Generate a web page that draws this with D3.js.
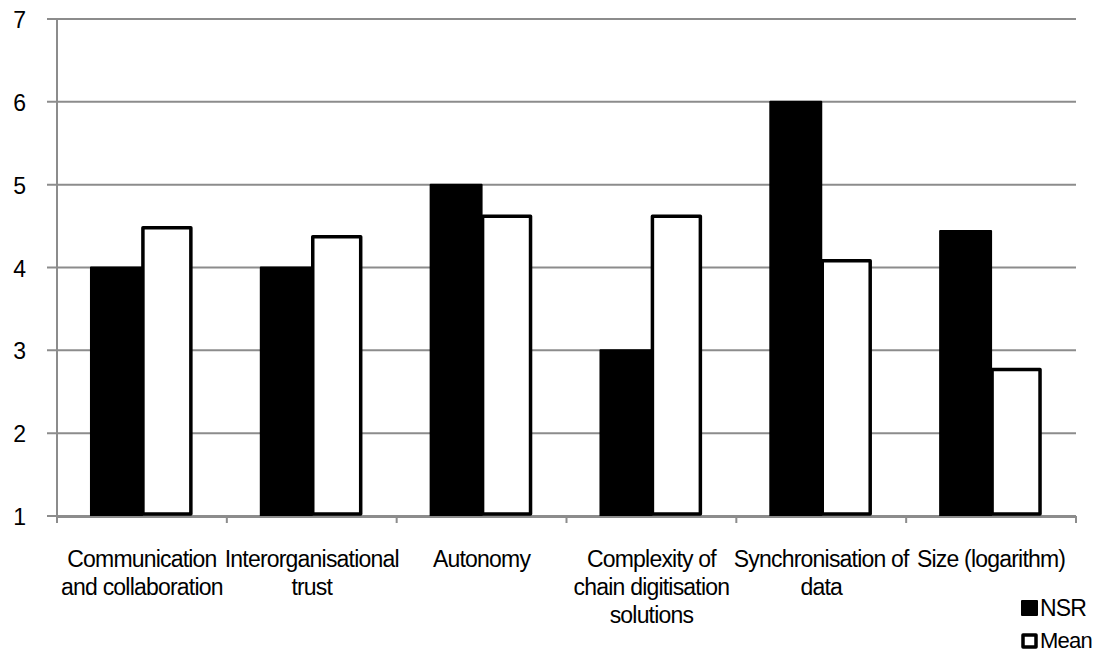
<!DOCTYPE html>
<html><head><meta charset="utf-8">
<script src="https://cdn.jsdelivr.net/npm/d3@7"></script>
<style>
body{margin:0;background:#fff;}
text{font-family:"Liberation Sans",Arial,sans-serif;fill:#000;}
</style></head>
<body>
<svg id="chart" width="1102" height="655"></svg>
<script>
const categories = ["Communication and collaboration","Interorganisational trust","Autonomy","Complexity of chain digitisation solutions","Synchronisation of data","Size (logarithm)"];
const categoryLines = [["Communication","and collaboration"],["Interorganisational","trust"],["Autonomy"],["Complexity of","chain digitisation","solutions"],["Synchronisation of","data"],["Size (logarithm)"]];
const nsrValues = [4, 4, 5, 3, 6, 4.44];
const meanValues = [4.48, 4.37, 4.62, 4.62, 4.08, 2.77];
const seriesNames = ["NSR","Mean"];
const yTicks = [1,2,3,4,5,6,7];

(function(){
const svg = d3.select("#chart");
const pL = 57, pR = 1076, pT = 19, pB = 516;
const x = d3.scaleBand().domain(categories).range([pL, pR]).paddingInner(0).paddingOuter(0);
const y = d3.scaleLinear().domain([1,7]).range([pB, pT]);
const bw = x.bandwidth()*0.3;
const off = x.bandwidth()*0.2;

// gridlines
svg.append("g").selectAll("line").data(yTicks).join("line")
  .attr("x1", pL-10).attr("x2", pR)
  .attr("y1", d=>y(d)).attr("y2", d=>y(d))
  .attr("stroke","#8c8c8c").attr("stroke-width",2);

// y labels
svg.append("g").selectAll("text").data(yTicks).join("text")
  .attr("x", 26).attr("y", d=>y(d)+9)
  .attr("text-anchor","end").attr("font-size",23).text(d=>d);

// bars
const g = svg.append("g");
g.selectAll("rect.nsr").data(categories).join("rect").attr("class","nsr")
  .attr("x", (d)=>x(d)+off)
  .attr("y", (d,i)=>y(nsrValues[i]))
  .attr("width", bw)
  .attr("height", (d,i)=>y(1)-y(nsrValues[i]))
  .attr("fill","#000").attr("stroke","#000").attr("stroke-width",2).attr("stroke-linejoin","round");
g.selectAll("rect.mean").data(categories).join("rect").attr("class","mean")
  .attr("x", (d)=>x(d)+off+bw+1)
  .attr("y", (d,i)=>y(meanValues[i]))
  .attr("width", bw-3)
  .attr("height", (d,i)=>y(1)-y(meanValues[i])-2)
  .attr("fill","#fff").attr("stroke","#000").attr("stroke-width",3.5).attr("stroke-linejoin","round");

// axes lines
svg.append("line").attr("x1",pL).attr("x2",pL).attr("y1",pT).attr("y2",pB)
  .attr("stroke","#8c8c8c").attr("stroke-width",2);
svg.append("line").attr("x1",pL).attr("x2",pR).attr("y1",pB+1).attr("y2",pB+1)
  .attr("stroke","#8c8c8c").attr("stroke-width",2);
const bounds = categories.map(c=>x(c)).concat([pR]);
svg.append("g").selectAll("line").data(bounds).join("line")
  .attr("x1",d=>d).attr("x2",d=>d).attr("y1",pB).attr("y2",pB+7)
  .attr("stroke","#8c8c8c").attr("stroke-width",2);

// category labels
const lab = svg.append("g");
categories.forEach((c,i)=>{
  const t = lab.append("text").attr("text-anchor","middle").attr("font-size",23)
    .attr("letter-spacing","-0.8px")
    .attr("x", x(c)+x.bandwidth()/2).attr("y", 567);
  categoryLines[i].forEach((l,j)=>{
    t.append("tspan").attr("x", x(c)+x.bandwidth()/2).attr("y", 567+28*j).text(l);
  });
});

// legend
const leg = svg.append("g");
leg.append("rect").attr("x",1022).attr("y",601).attr("width",15).attr("height",14)
  .attr("fill","#000").attr("stroke","#000").attr("stroke-width",2).attr("stroke-linejoin","round");
leg.append("text").attr("x",1040).attr("y",616).attr("font-size",23).attr("letter-spacing","-0.8px").text(seriesNames[0]);
leg.append("rect").attr("x",1023).attr("y",635).attr("width",13).attr("height",12)
  .attr("fill","#fff").attr("stroke","#000").attr("stroke-width",3.5).attr("stroke-linejoin","round");
leg.append("text").attr("x",1040).attr("y",648).attr("font-size",22).attr("letter-spacing","-0.8px").text(seriesNames[1]);
})();
</script>
</body></html>
